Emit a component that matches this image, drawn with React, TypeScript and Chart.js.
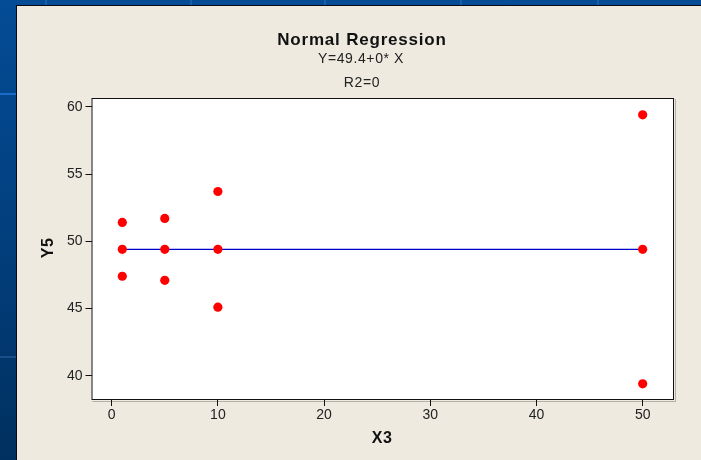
import React, { useEffect, useRef } from "react";
import { Chart, registerables } from "chart.js";

Chart.register(...registerables);

// Observations: X3 design levels and the measured Y5 response
const xLevels = [1, 1, 1, 5, 5, 5, 10, 10, 10, 50, 50, 50];
const y5Values = [51.4, 49.4, 47.4, 51.7, 49.4, 47.1, 53.7, 49.4, 45.1, 59.4, 49.4, 39.4];

// Fitted line Y = 49.4 + 0*X over the observed X range
const fitX = [1, 50];
const fitY = [49.4, 49.4];

const xTicks = [0, 10, 20, 30, 40, 50];
const yTicks = [40, 45, 50, 55, 60];

const titleText = "Normal Regression";
const subtitleLines = ["Y=49.4+0* X", "R2=0"];
const xTitle = "X3";
const yTitle = "Y5";

const INK = "#111111";
const SANS = "'Liberation Sans', Arial, sans-serif";

const panelPlugin = {
  id: "panelFrame",
  beforeDraw(chart: any) {
    const { ctx, chartArea: a } = chart;
    ctx.save();
    ctx.fillStyle = "#ffffff";
    ctx.fillRect(a.left, a.top, a.right - a.left, a.bottom - a.top);
    ctx.restore();
  },
  afterDraw(chart: any) {
    const { ctx, chartArea: a } = chart;
    ctx.save();
    // soft shadow on the right and bottom of the plot frame
    ctx.strokeStyle = "rgba(0,0,0,0.25)";
    ctx.lineWidth = 1;
    ctx.beginPath();
    ctx.moveTo(a.right + 1.5, a.top + 1);
    ctx.lineTo(a.right + 1.5, a.bottom + 1.5);
    ctx.lineTo(a.left + 1, a.bottom + 1.5);
    ctx.stroke();
    ctx.strokeStyle = INK;
    ctx.strokeRect(a.left + 0.5, a.top + 0.5, a.right - a.left - 1, a.bottom - a.top - 1);

    ctx.fillStyle = INK;
    ctx.textAlign = "center";
    ctx.textBaseline = "alphabetic";
    (ctx as any).letterSpacing = "0.8px";
    ctx.font = `bold 17px ${SANS}`;
    ctx.fillText(titleText, 362, 45);
    (ctx as any).letterSpacing = "0.6px";
    ctx.font = `14px ${SANS}`;
    ctx.fillStyle = "#222222";
    ctx.fillText(subtitleLines[0], 361, 63);
    ctx.fillText(subtitleLines[1], 362, 87);

    (ctx as any).letterSpacing = "0.5px";
    ctx.fillStyle = INK;
    ctx.font = `bold 16px ${SANS}`;
    ctx.fillText(xTitle, 382, 443);
    ctx.translate(52.5, 248);
    ctx.rotate(-Math.PI / 2);
    ctx.fillText(yTitle, 0, 0);
    ctx.restore();
  },
};

function RegressionChart() {
  const ref = useRef<HTMLCanvasElement>(null);

  useEffect(() => {
    if (!ref.current) return;
    const points = xLevels.map((x, i) => ({ x, y: y5Values[i] }));
    const fit = fitX.map((x, i) => ({ x, y: fitY[i] }));
    const tickFont = { family: SANS, size: 14 };

    const chart = new Chart(ref.current, {
      type: "scatter",
      data: {
        datasets: [
          {
            label: "Y5",
            data: points,
            pointRadius: 4.6,
            pointHoverRadius: 4.6,
            pointBackgroundColor: "#ff0000",
            pointBorderColor: "#ff0000",
            pointBorderWidth: 0,
          },
          {
            type: "line",
            label: "Fit",
            data: fit,
            borderColor: "#0000cc",
            borderWidth: 1.2,
            pointRadius: 0,
            fill: false,
          } as any,
        ],
      },
      options: {
        responsive: false,
        animation: false,
        devicePixelRatio: 1,
        layout: { padding: { top: 98, right: 27, left: 0, bottom: 0 } },
        plugins: {
          legend: { display: false },
          tooltip: { enabled: false },
          title: { display: false },
        },
        scales: {
          x: {
            type: "linear",
            min: -1.9,
            max: 52.95,
            grid: {
              drawOnChartArea: false,
              drawTicks: true,
              tickLength: 6,
              tickColor: INK,
              tickWidth: 1,
            },
            border: { display: false },
            ticks: { color: "#222222", font: tickFont, padding: 1, maxRotation: 0 },
            afterBuildTicks(scale: any) {
              scale.ticks = xTicks.map((v) => ({ value: v }));
            },
            afterFit(scale: any) {
              scale.height = 60;
            },
          },
          y: {
            type: "linear",
            min: 38.2,
            max: 60.65,
            grid: {
              drawOnChartArea: false,
              drawTicks: true,
              tickLength: 6,
              tickColor: INK,
              tickWidth: 1,
            },
            border: { display: false },
            ticks: { color: "#222222", font: tickFont, padding: 3 },
            afterBuildTicks(scale: any) {
              scale.ticks = yTicks.map((v) => ({ value: v }));
            },
            afterFit(scale: any) {
              scale.width = 91.5;
            },
          },
        },
      },
      plugins: [panelPlugin],
    });
    return () => chart.destroy();
  }, []);

  return (
    <canvas
      ref={ref}
      width={701}
      height={460}
      style={{ position: "absolute", left: 0, top: 0, width: 701, height: 460 }}
    />
  );
}

// Slide backdrop: blue frame with faint lighter rules, beige panel on top
const topRules = [45, 190, 324, 460, 597];
const sideRules = [93, 356];

export default function App() {
  return (
    <div
      style={{
        position: "fixed",
        left: 0,
        top: 0,
        width: 701,
        height: 460,
        overflow: "hidden",
        background: "linear-gradient(180deg, #044c96 0%, #023f7e 50%, #00305f 100%)",
      }}
    >
      {topRules.map((x) => (
        <div
          key={"t" + x}
          style={{ position: "absolute", left: x, top: 0, width: 2, height: 5, background: "#1a5ea8" }}
        />
      ))}
      {sideRules.map((y) => (
        <div
          key={"s" + y}
          style={{ position: "absolute", left: 0, top: y, width: 16, height: 2, background: y < 200 ? "#1b6cc8" : "#1a4f8c" }}
        />
      ))}
      <div
        style={{
          position: "absolute",
          left: 16,
          top: 5,
          width: 701 - 16,
          height: 460 - 5,
          boxSizing: "border-box",
          background: "#eeeae0",
          borderLeft: "1.5px solid #0a0a14",
          borderTop: "1px solid #0a0a14",
        }}
      />
      <RegressionChart />
    </div>
  );
}
